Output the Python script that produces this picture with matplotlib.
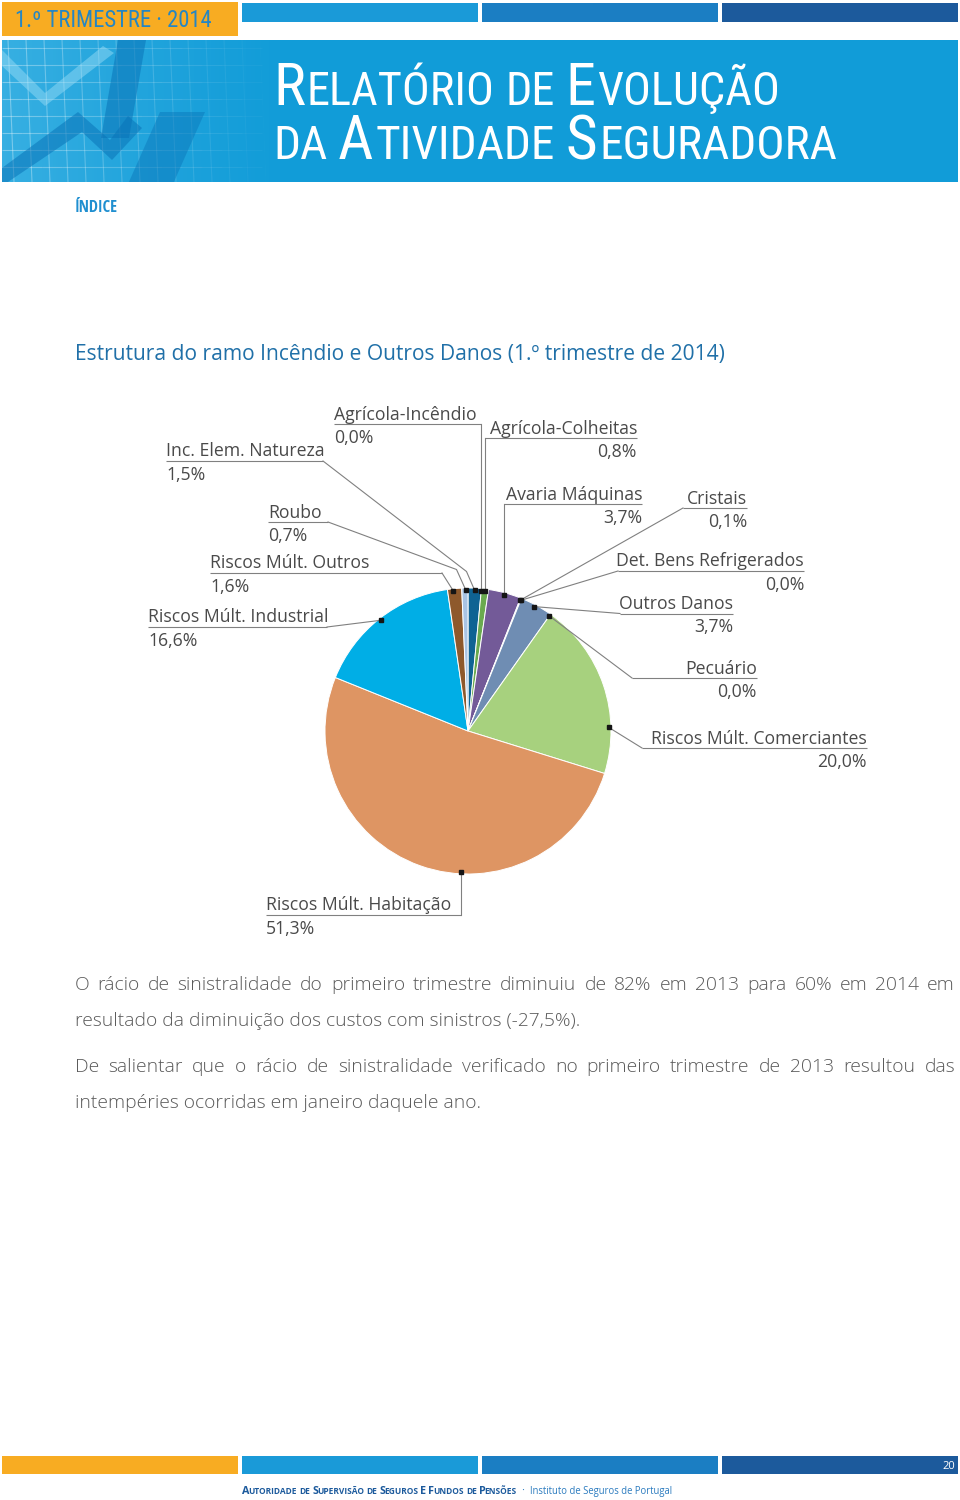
import matplotlib
matplotlib.use('Agg')
import matplotlib.pyplot as plt
import matplotlib.font_manager as fm
from matplotlib.patches import Rectangle, Polygon
from matplotlib.collections import LineCollection
import matplotlib.colors as mcolors
import numpy as np

# ---------------- data ----------------
categories = ['Inc. Elem. Natureza', 'Agrícola-Incêndio', 'Agrícola-Colheitas', 'Avaria Máquinas',
              'Cristais', 'Det. Bens Refrigerados', 'Outros Danos', 'Pecuário',
              'Riscos Múlt. Comerciantes', 'Riscos Múlt. Habitação', 'Riscos Múlt. Industrial',
              'Riscos Múlt. Outros', 'Roubo']
shares = [1.5, 0.0, 0.8, 3.7, 0.1, 0.0, 3.7, 0.0, 20.0, 51.3, 16.6, 1.6, 0.7]
slice_colors = ['#0f6393', '#2f7fb0', '#6aaa4f', '#735a98', '#3d8db5', '#b0b0b0', '#6f8db3',
                '#c0c0c0', '#a7d17e', '#de9563', '#00aee6', '#8e592c', '#a9c4e4']

chart_title = 'Estrutura do ramo Incêndio e Outros Danos (1.º trimestre de 2014)'
header_tag = '1.º TRIMESTRE · 2014'
index_label = 'ÍNDICE'
report_line1 = [[('R', True), ('ELATÓRIO', False)], [('DE', False)], [('E', True), ('VOLUÇÃO', False)]]
report_line2 = [[('DA', False)], [('A', True), ('TIVIDADE', False)], [('S', True), ('EGURADORA', False)]]
footer_org = [[('A', True), ('UTORIDADE', False)], [('DE', False)], [('S', True), ('UPERVISÃO', False)],
              [('DE', False)], [('S', True), ('EGUROS', False)], [('E', True)], [('F', True), ('UNDOS', False)],
              [('DE', False)], [('P', True), ('ENSÕES', False)]]
footer_inst = 'Instituto de Seguros de Portugal'
page_number = '20'
paragraph1 = ['O rácio de sinistralidade do primeiro trimestre diminuiu de 82% em 2013 para 60% em 2014 em',
              'resultado da diminuição dos custos com sinistros (-27,5%).']
paragraph2 = ['De salientar que o rácio de sinistralidade verificado no primeiro trimestre de 2013 resultou das',
              'intempéries ocorridas em janeiro daquele ano.']

# ---------------- layout (pixel coords, y from top) ----------------
W, H = 960, 1500
PIE_CX, PIE_CY, PIE_R = 468, 731, 143
# label layout: text x, align, underline y, underline x0, x1 (None -> dot x), elbow, fraction along slice
label_layout = {
    'Inc. Elem. Natureza':        (166, 'left', 461, 166, 323, (466.5, 571.5), 0.5),
    'Agrícola-Incêndio':          (334, 'left', 424, 334, None, None, 0.0),
    'Agrícola-Colheitas':         (637, 'right', 438, None, 637, None, 0.6),
    'Avaria Máquinas':            (642, 'right', 504, None, 642, None, 0.5),
    'Cristais':                   (747, 'right', 508, 683, 747, None, 0.5),
    'Det. Bens Refrigerados':     (804, 'right', 571, 618, 804, None, 0.5),
    'Outros Danos':               (733, 'right', 613.5, 620, 733, None, 0.45),
    'Pecuário':                   (757, 'right', 678, 632, 757, None, 0.5),
    'Riscos Múlt. Comerciantes':  (867, 'right', 748, 642, 867, None, 0.74),
    'Riscos Múlt. Habitação':     (266, 'left', 915, 266, None, None, 0.41),
    'Riscos Múlt. Industrial':    (148, 'left', 627, 148, 327, None, 0.5),
    'Riscos Múlt. Outros':        (210, 'left', 573, 210, 442, None, 0.4),
    'Roubo':                      (268, 'left', 522, 268, 328, (456.5, 569.5), 0.65),
}

# ---------------- fonts ----------------
ttf = fm.fontManager.ttflist
names = {f.name for f in ttf}
BASE = 'Open Sans' if 'Open Sans' in names else 'DejaVu Sans'


def _wt(v):
    try:
        return int(v)
    except Exception:
        return {'ultralight': 200, 'light': 300, 'normal': 400, 'regular': 400, 'book': 400,
                'medium': 500, 'semibold': 600, 'demibold': 600, 'bold': 700, 'heavy': 800,
                'extra bold': 800, 'black': 900}.get(str(v).lower(), 400)


LIGHT = 300 if any(f.name == BASE and _wt(f.weight) <= 300 for f in ttf) else 'normal'

cond_pref = ['Open Sans Condensed', 'Noto Sans Condensed', 'Roboto Condensed', 'Liberation Sans Narrow',
             'DejaVu Sans Condensed', 'Noto Sans Display Condensed', 'Noto Sans SemiCondensed']
cands = []
for n in cond_pref:
    ws = sorted({_wt(f.weight) for f in ttf if f.name == n})
    if ws:
        cands.append((dict(family=n), ws))
for f in ttf:
    if str(f.stretch) in ('condensed', 'semi-condensed', 'extra-condensed') and \
            f.name in ('Noto Sans', 'Open Sans', 'DejaVu Sans', 'Roboto', 'Liberation Sans'):
        ws = sorted({_wt(g.weight) for g in ttf if g.name == f.name and str(g.stretch) == str(f.stretch)})
        cands.append((dict(family=f.name, stretch=str(f.stretch)), ws))

cond_thin = None
cond_bold = None
for kw, ws in cands:
    thin = [w for w in ws if w <= 400]
    if cond_thin is None and thin:
        cond_thin = dict(kw, fontweight=max(thin))
    bold = [w for w in ws if w >= 600]
    if cond_bold is None and bold:
        cond_bold = dict(kw, fontweight=min(bold))
if cond_thin is None:
    cond_thin = dict(family=BASE, fontweight='normal')
if cond_bold is None:
    cond_bold = dict(family=BASE, fontweight='bold')

# ---------------- figure ----------------
fig = plt.figure(figsize=(W / 100, H / 100), dpi=100)
fig.patch.set_facecolor('white')
ax = fig.add_axes([0, 0, 1, 1])
ax.set_xlim(0, W)
ax.set_ylim(0, H)
ax.axis('off')
RND = fig.canvas.get_renderer()


def Y(y):
    return H - y


def rect(x0, y0, x1, y1, color, **kw):
    p = Rectangle((x0, Y(y1)), x1 - x0, y1 - y0, facecolor=color, edgecolor='none', **kw)
    ax.add_patch(p)
    return p


def width(t):
    return t.get_window_extent(renderer=RND).width


def fit(t, target):
    for _ in range(2):
        t.set_fontsize(t.get_fontsize() * target / width(t))
    return t


def space_w(size, fkw):
    a = ax.text(0, 0, 'n n', fontsize=size, **fkw)
    b = ax.text(0, 0, 'nn', fontsize=size, **fkw)
    w = width(a) - width(b)
    a.remove()
    b.remove()
    return w


def smallcaps(words, x, y, target_w, color, fkw, ratio=0.78, tight=0.03):
    arts = []
    for wi, word in enumerate(words):
        for s, big in word:
            t = ax.text(x, Y(y), s, color=color, ha='left', va='baseline', **fkw)
            arts.append((t, big, wi))

    def place(size):
        cur = x
        sp = space_w(size * ratio, fkw)
        for i, (t, big, wi) in enumerate(arts):
            t.set_fontsize(size if big else size * ratio)
            if i > 0:
                cur += sp if wi != arts[i - 1][2] else tight * size * 100 / 72
            t.set_x(cur)
            cur += width(t)
        return cur - x

    size = 30.0
    for _ in range(3):
        size *= target_w / place(size)
    place(size)
    return arts


def justify(line, x0, x1, y, size, **kw):
    words = line.split(' ')
    ts = [ax.text(x0, Y(y), w_, fontsize=size, ha='left', va='baseline', **kw) for w_ in words]
    ws = [width(t) for t in ts]
    gap = (x1 - x0 - sum(ws)) / (len(ws) - 1)
    cur = x0
    for t, w_ in zip(ts, ws):
        t.set_x(cur)
        cur += w_ + gap


# ---------------- header ----------------
rect(2, 2, 238, 36, '#f8ac22')
rect(242, 3, 478, 22, '#1a9ad8')
rect(482, 3, 718, 22, '#1b7ec3')
rect(722, 3, 958, 22, '#1c5a9c')
ht = ax.text(15, Y(27), header_tag, color='#2586c4', fontsize=14, ha='left', va='baseline', **cond_thin)
fit(ht, 197)

banner = rect(2, 40, 958, 182, '#119cd8')
# decorative chart motif on the left of the banner
grad = np.zeros((1, 300, 4))
grad[..., :3] = mcolors.to_rgb('#7dd3f5')
grad[..., 3] = np.linspace(0.45, 0.0, 300) ** 1.3
im = ax.imshow(grad, extent=(2, 302, Y(182), Y(40)), aspect='auto', zorder=1.5)
im.set_clip_path(banner)
segs, cols = [], []
for gx in range(8, 262, 18):
    a = 0.35 * (1 - gx / 270)
    segs.append([(gx, Y(40)), (gx + 6, Y(182))])
    cols.append((1, 1, 1, a))
for gy in range(48, 182, 17):
    for sx in range(2, 262, 20):
        a = 0.35 * (1 - sx / 270)
        segs.append([(sx, Y(gy)), (sx + 20, Y(gy))])
        cols.append((1, 1, 1, a))
lc = LineCollection(segs, colors=cols, linewidths=0.8, zorder=1.6)
ax.add_collection(lc)
lc.set_clip_path(banner)
shapes = [
    ([(2, 50), (45, 93), (103, 46), (114, 53), (45, 106), (2, 66)], '#9fe0f8', 0.45),
    ([(118, 40), (146, 40), (129, 138), (101, 138)], '#0a74b8', 0.55),
    ([(2, 168), (78, 112), (110, 140), (128, 116), (142, 128), (112, 160), (82, 132), (2, 186)], '#0a74b8', 0.55),
    ([(160, 112), (205, 112), (173, 184), (128, 184)], '#0a74b8', 0.45),
]
for pts, c, a in shapes:
    pg = Polygon([(px, Y(py)) for px, py in pts], closed=True, facecolor=c, alpha=a,
                 edgecolor='none', zorder=1.7)
    ax.add_patch(pg)
    pg.set_clip_path(banner)

for t, _, _ in smallcaps(report_line1, 273, 105, 507, 'white', cond_thin, ratio=0.77):
    t.set_zorder(3)
for t, _, _ in smallcaps(report_line2, 273, 159, 565, 'white', cond_thin, ratio=0.77):
    t.set_zorder(3)

idx = ax.text(75, Y(212), index_label, color='#1f8fd0', fontsize=9, ha='left', va='baseline', **cond_bold)
fit(idx, 43)

# ---------------- chart title ----------------
tt = ax.text(75, Y(360), chart_title, color='#2070a8', fontsize=15, ha='left', va='baseline', family=BASE)
fit(tt, 651)

# ---------------- pie ----------------
wedges, _ = ax.pie(shares, colors=slice_colors, startangle=90, counterclock=False,
                   center=(PIE_CX, Y(PIE_CY)), radius=PIE_R, frame=True,
                   wedgeprops=dict(edgecolor='white', linewidth=0.7))
for w_, v in zip(wedges, shares):
    if v == 0:
        w_.set_linewidth(0)
        w_.set_edgecolor('none')
ax.set_xlim(0, W)
ax.set_ylim(0, H)
ax.set_aspect('auto')
ax.axis('off')

probe = ax.text(0, 0, 'Riscos Múlt. Comerciantes', fontsize=12.8, family=BASE)
LS = 12.8 * 215 / width(probe)
probe.remove()

LINE_C = '#808080'
TXT_C = '#4a4a4a'
for w_, name, v in zip(wedges, categories, shares):
    tx, ha, uly, ux0, ux1, elbow, frac = label_layout[name]
    ang = np.deg2rad(w_.theta2 - frac * (w_.theta2 - w_.theta1))
    rd = PIE_R * 0.985
    dx, dy = PIE_CX + rd * np.cos(ang), Y(PIE_CY) + rd * np.sin(ang)
    x0 = dx if ux0 is None else ux0
    x1 = dx if ux1 is None else ux1
    ax.plot([x0, x1], [Y(uly), Y(uly)], color=LINE_C, lw=0.8, solid_capstyle='butt', zorder=4)
    cp = x0 if abs(x0 - dx) < abs(x1 - dx) else x1
    pts = [(cp, Y(uly))]
    if elbow is not None:
        pts.append((elbow[0], Y(elbow[1])))
    pts.append((dx, dy))
    ax.plot([p[0] for p in pts], [p[1] for p in pts], color=LINE_C, lw=0.8, zorder=4)
    ax.plot([dx], [dy], 's', ms=2.6, color='#151515', zorder=5)
    ax.text(tx, Y(uly - 4.5), name, fontsize=LS, color=TXT_C, ha=ha, va='baseline', family=BASE)
    ax.text(tx, Y(uly + 19), f'{v:.1f}%'.replace('.', ','), fontsize=LS, color=TXT_C,
            ha=ha, va='baseline', family=BASE)

# ---------------- body text ----------------
BODY_C = '#5a5a5a'
bp = ax.text(75, Y(1026), paragraph1[1], fontsize=13, color=BODY_C, ha='left', va='baseline',
             family=BASE, fontweight=LIGHT)
fit(bp, 505)
BS = bp.get_fontsize()
justify(paragraph1[0], 75, 955, 990, BS, color=BODY_C, family=BASE, fontweight=LIGHT)
justify(paragraph2[0], 75, 955, 1072, BS, color=BODY_C, family=BASE, fontweight=LIGHT)
ax.text(75, Y(1108), paragraph2[1], fontsize=BS, color=BODY_C, ha='left', va='baseline',
        family=BASE, fontweight=LIGHT)

# ---------------- footer ----------------
rect(2, 1456, 238, 1474, '#f8ac22')
rect(242, 1456, 478, 1474, '#1a9ad8')
rect(482, 1456, 718, 1474, '#1b7ec3')
rect(722, 1456, 958, 1474, '#1c5a9c')
ax.text(955, Y(1469), page_number, color='white', fontsize=8, ha='right', va='baseline', family=BASE)
smallcaps(footer_org, 242, 1494, 275, '#1c5a9c', dict(family=BASE, fontweight='bold'),
          ratio=0.78, tight=-0.09)
ax.text(523, Y(1494), '·', color='#2b7bbf', fontsize=8, ha='center', va='baseline', family=BASE)
fi = ax.text(530, Y(1494), footer_inst, color='#2b7bbf', fontsize=7, ha='left', va='baseline', family=BASE)
fit(fi, 143)

fig.savefig('out.png', dpi=100, facecolor='white')
